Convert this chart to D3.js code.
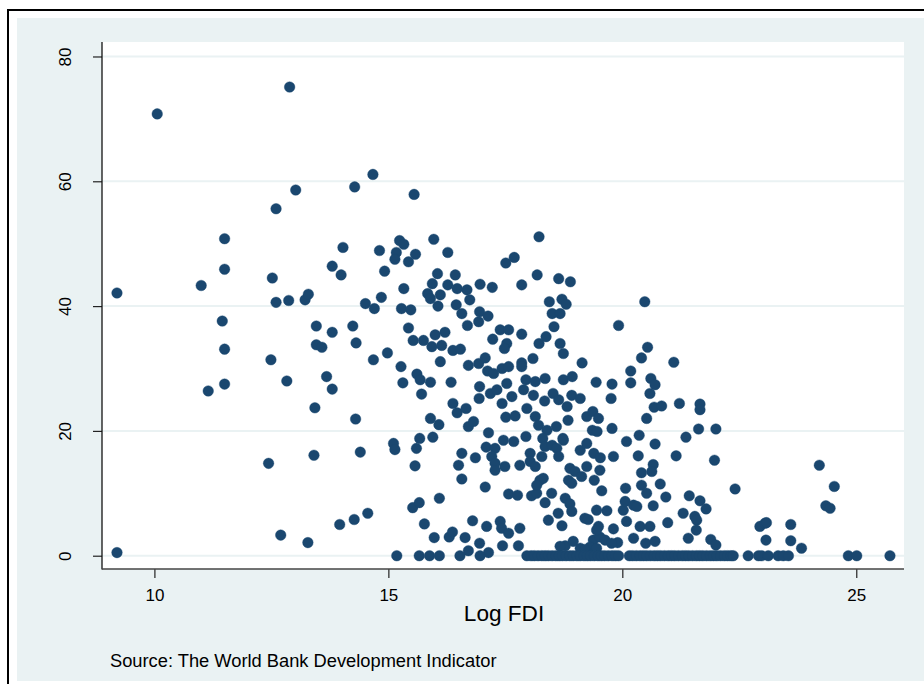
<!DOCTYPE html>
<html>
<head>
<meta charset="utf-8">
<script src="https://cdn.jsdelivr.net/npm/d3@7"></script>
<style>
  body { margin: 0; background: #fff; }
  text { font-family: "Liberation Sans", Arial, Helvetica, sans-serif; fill: #000; }
</style>
</head>
<body>
<div id="chart"></div>
<script>
// values: [log FDI, y]
const pointsLeft = [
  [9.20,0.5],[9.20,42.1],[10.06,70.8],[11.00,43.3],[11.15,26.4],[11.45,37.6],[11.50,50.8],[11.50,45.9],
  [11.50,33.1],[11.50,27.5],[12.44,14.8],[12.49,31.4],[12.52,44.5],[12.60,55.6],[12.60,40.6],[12.70,3.3],
  [12.83,28.0],[12.89,75.1],[12.87,40.9],[13.02,58.6],[13.22,41.0],[13.29,41.9],[13.28,2.1],[13.41,16.1],
  [13.43,23.7],[13.46,36.8],[13.46,33.8],[13.58,33.4],[13.68,28.7],[13.80,26.7],[13.80,35.8],[13.80,46.4],
  [13.99,45.0],[14.03,49.4],[13.96,5.0],[14.24,36.8],[14.28,59.1],[14.27,5.8],[14.31,34.1],[14.30,21.9],
  [14.40,16.6],[14.56,6.8],[14.67,61.1],[15.55,57.9]
];

const pointsUpper = [
  [15.24,50.5],[15.33,49.9],[15.17,48.6],[15.14,47.5],[14.81,48.9],[15.58,48.3],[15.43,47.1],[14.92,45.6],
  [15.97,50.7],[16.27,48.6],[18.22,51.1],[17.51,46.9],[17.69,47.8],[16.05,45.2],[16.43,45.0],[15.94,43.6],
  [16.27,43.4],[16.47,42.8],[16.68,42.6],[15.84,42.0],[16.11,41.8],[15.90,41.2],[16.74,41.0],[16.96,43.5],
  [17.22,43.0],[17.85,43.4],[18.18,45.0],[18.64,44.4],[18.89,43.9],[15.33,42.8],[14.85,41.4],[14.51,40.4],
  [14.70,39.6],[15.28,39.6],[15.48,39.4],[16.06,40.0],[16.45,40.2],[16.57,38.8],[16.95,39.1],[17.13,38.4],
  [16.93,37.5],[16.69,36.9],[18.44,40.7],[18.71,41.1],[18.80,40.3],[18.50,38.8],[18.67,38.8],[18.54,36.7],
  [19.92,36.9],[15.43,36.5],[15.53,34.5],[15.75,34.5],[16.00,35.4],[16.21,35.8],[15.93,33.5],[16.14,33.7],
  [16.38,32.9],[16.54,33.1],[14.68,31.4],[14.98,32.5],[16.11,31.1],[17.23,34.7],[17.39,36.2],[17.57,36.2],
  [17.85,35.5],[17.53,34.0],[17.48,33.2],[18.22,34.0],[18.37,35.1],[18.67,34.0],[18.74,32.4],[19.14,30.9],
  [20.48,40.7],[20.54,33.4],[20.41,31.7],[20.18,29.6],[20.18,27.7],[21.10,31.0],[20.61,28.4],[20.70,27.4],
  [20.59,26.0]
];

const pointsMiddle = [
  [15.27,30.3],[15.61,29.1],[15.68,28.2],[15.90,27.8],[15.31,27.7],[15.71,25.9],[16.34,27.8],[16.71,30.5],
  [16.93,30.8],[17.07,31.7],[17.12,29.6],[17.25,29.2],[17.43,30.0],[17.57,30.3],[17.85,30.9],[18.09,31.6],
  [17.85,30.3],[17.94,28.2],[18.14,27.9],[18.35,28.4],[18.74,28.2],[18.93,28.7],[19.44,27.8],[19.78,27.5],
  [19.76,25.2],[16.95,27.1],[16.94,25.2],[17.18,26.0],[17.32,26.6],[17.53,27.6],[17.43,24.4],[17.64,25.5],
  [17.89,26.6],[18.10,25.7],[18.34,24.8],[18.52,26.0],[18.64,25.0],[18.82,23.9],[18.92,25.7],[19.10,25.2],
  [16.38,24.4],[16.47,22.9],[16.66,23.6],[15.90,22.0],[16.08,21.0],[16.71,20.7],[16.82,21.5],[17.51,22.2],
  [17.71,22.4],[17.96,23.6],[18.14,22.3],[18.21,20.9],[18.39,20.1],[18.59,20.7],[18.73,18.8],[18.84,21.7],
  [19.24,22.3],[19.37,23.1],[19.49,22.0],[19.36,20.1],[19.46,19.9],[19.78,20.4],[15.67,18.8],[15.60,17.2],
  [15.95,19.0],[15.11,18.0],[15.14,17.0],[17.14,19.7],[17.09,17.4],[17.28,17.2],[17.46,18.5],[17.68,18.3],
  [17.94,19.1],[18.30,18.8],[18.35,17.5],[18.50,17.7],[18.60,17.2],[18.74,18.5],[19.10,16.9],[19.24,18.0],
  [19.39,16.4],[19.53,15.7],[19.81,15.9],[16.57,16.4],[16.86,15.7],[17.21,15.9],[18.03,16.4],[18.28,15.9],
  [18.64,15.9],
  [20.09,18.3],[20.36,19.3],[20.70,17.9],[20.52,22.0],[20.68,23.8],[20.84,24.0],[21.22,24.4],[21.66,24.3],
  [21.66,23.4],[21.63,20.3],[22.00,20.3],[21.36,19.0],[21.15,16.0],[20.34,16.0],[21.97,15.3],[22.41,10.7]
];

const pointsLower = [
  [17.07,11.0],[17.57,9.9],[17.76,9.7],[18.06,9.6],[18.17,10.0],[18.35,8.5],[18.49,10.0],[18.24,12.1],
  [18.31,12.4],[18.17,11.3],[17.81,14.5],[17.28,14.8],[17.28,13.7],[17.49,14.3],[18.03,15.1],[18.14,14.3],
  [18.88,14.0],[18.99,13.5],[18.85,12.1],[18.92,11.6],[19.13,12.7],[19.24,14.3],[19.40,12.1],[19.52,13.7],
  [19.56,10.4],[18.78,9.2],[18.88,8.3],[18.63,6.8],[18.42,5.7],[18.71,4.8],[18.92,7.1],[19.20,6.0],
  [19.27,5.8],[19.45,7.3],[19.67,7.2],[19.49,4.7],[19.81,4.3],[20.02,7.3],[20.06,8.7],[20.07,10.8],
  [20.09,5.5],[20.24,8.1],[20.31,7.9],[20.41,13.3],[20.66,14.6],[20.63,13.5],[20.41,11.3],[20.52,10.0],
  [20.66,8.0],[20.81,11.5],[20.93,9.4],[20.38,4.7],[20.59,4.7],[20.24,2.8],[20.50,2.0],[20.70,2.3],
  [19.90,2.1],[20.97,5.3],[21.30,6.8],[21.43,9.6],[21.66,8.8],[21.79,7.5],[21.55,6.3],[21.59,5.7],
  [21.58,4.1],[21.41,2.8],[21.89,2.6],[22.00,1.7],[17.10,4.7],[17.39,5.5],[17.42,4.4],[17.57,3.6],
  [17.81,4.4],[17.44,1.6],[17.78,1.6],[17.14,0.5],[18.78,1.6],[18.95,2.3],[19.10,1.2],[19.38,2.5],
  [19.52,3.0],[19.63,2.5],[19.45,4.1],[19.31,1.4],[19.45,1.2],[19.20,1.0],[18.67,1.5],[19.77,2.0],
  [15.57,14.4],[16.50,14.5],[16.57,12.3],[16.09,9.2],[15.52,7.7],[15.66,8.5],[15.77,5.1],[15.98,2.9],
  [16.30,3.0],[16.37,3.8],[16.64,2.9],[16.80,5.6],[16.95,2.0],[16.71,0.8],
  [22.94,4.7],[23.05,5.2],[23.08,5.3],[23.07,2.5],[23.60,5.0],[23.60,2.4],[23.83,1.2],[24.21,14.5],
  [24.53,11.1],[24.35,8.0],[24.44,7.6]
];

// observations sitting on zero
const zeroFdi = [
  15.18,15.66,15.88,16.09,16.53,16.96,
  17.96,18.05,18.12,18.20,18.28,18.35,18.42,18.50,18.58,18.65,18.72,18.80,18.88,18.95,19.03,19.10,
  19.18,19.25,19.32,19.40,19.48,19.55,19.62,19.70,19.78,19.85,19.92,20.15,20.22,20.30,20.38,20.45,
  20.52,20.60,20.68,20.75,20.82,20.90,20.98,21.05,21.12,21.20,21.28,21.35,21.42,21.50,21.58,21.65,
  21.72,21.80,21.88,21.95,22.02,22.10,22.18,22.25,22.32,22.37,
  22.69,22.91,22.98,23.12,23.33,23.44,23.55,24.83,25.01,25.72
];

const xTicks = [10, 15, 20, 25];
const yTicks = [0, 20, 40, 60, 80];
const xTitle = 'Log FDI';
const note = 'Source: The World Bank Development Indicator';

const data = pointsLeft.concat(pointsUpper, pointsMiddle, pointsLower, zeroFdi.map(v => [v, 0]));

const width = 924;
const height = 684;
const plot = { left: 102, top: 42, right: 904, bottom: 569 };

const svg = d3.select('#chart').append('svg')
  .attr('width', width)
  .attr('height', height);

// outer frame + graph region
svg.append('rect').attr('x', 8).attr('y', 10).attr('width', 940).attr('height', 700)
  .attr('fill', '#fff').attr('stroke', '#000').attr('stroke-width', 2);
svg.append('rect').attr('x', 17).attr('y', 18).attr('width', 920).attr('height', 663)
  .attr('fill', '#eaf2f3');
svg.append('rect').attr('x', plot.left).attr('y', plot.top)
  .attr('width', plot.right - plot.left).attr('height', plot.bottom - plot.top)
  .attr('fill', '#fff');

const xScale = d3.scaleLinear().domain([8.88, 26.02]).range([plot.left, plot.right]);
const yScale = d3.scaleLinear().domain([-2.13, 82.32]).range([plot.bottom, plot.top]);

// grid
svg.append('g').selectAll('line')
  .data(yTicks)
  .enter()
  .append('line')
  .attr('x1', plot.left).attr('x2', plot.right)
  .attr('y1', d => yScale(d)).attr('y2', d => yScale(d))
  .attr('stroke', '#eaf2f3').attr('stroke-width', 2);

// markers
svg.append('g').selectAll('circle')
  .data(data)
  .enter()
  .append('circle')
  .attr('cx', d => xScale(d[0]))
  .attr('cy', d => yScale(d[1]))
  .attr('r', 5.3)
  .attr('fill', '#1a476f')
  .attr('stroke', '#1a476f')
  .attr('stroke-width', 0.4);

// axes
const xAxis = d3.axisBottom(xScale).tickValues(xTicks).tickSize(9).tickSizeOuter(0);
const xAxisDraw = svg.append('g').attr('transform', `translate(0,${plot.bottom})`).call(xAxis);
xAxisDraw.select('.domain').remove();
xAxisDraw.selectAll('line').attr('stroke', '#222').attr('stroke-width', 1.2);
xAxisDraw.selectAll('text').attr('y', 32).attr('dy', 0)
  .style('font-size', '17px').style('font-family', '"Liberation Sans", Arial, sans-serif').attr('fill', '#000');

const yAxis = d3.axisLeft(yScale).tickValues(yTicks).tickSize(9).tickSizeOuter(0);
const yAxisDraw = svg.append('g').attr('transform', `translate(${plot.left},0)`).call(yAxis);
yAxisDraw.select('.domain').remove();
yAxisDraw.selectAll('line').attr('stroke', '#222').attr('stroke-width', 1.2);
yAxisDraw.selectAll('text')
  .attr('x', 0).attr('dy', 0)
  .attr('text-anchor', 'middle')
  .attr('transform', 'translate(-31,0) rotate(-90)')
  .style('font-size', '17px').style('font-family', '"Liberation Sans", Arial, sans-serif').attr('fill', '#000');

svg.append('line').attr('x1', plot.left).attr('x2', plot.left)
  .attr('y1', plot.top).attr('y2', plot.bottom + 0.6)
  .attr('stroke', '#111').attr('stroke-width', 1.3);
svg.append('line').attr('x1', plot.left).attr('x2', plot.right)
  .attr('y1', plot.bottom).attr('y2', plot.bottom)
  .attr('stroke', '#444').attr('stroke-width', 1.3);

// titles
svg.append('text')
  .attr('x', (plot.left + plot.right) / 2 + 1).attr('y', 621)
  .attr('text-anchor', 'middle')
  .style('font-size', '22.6px')
  .text(xTitle);

svg.append('text')
  .attr('x', 110).attr('y', 667)
  .style('font-size', '18.3px')
  .text(note);
</script>
</body>
</html>
